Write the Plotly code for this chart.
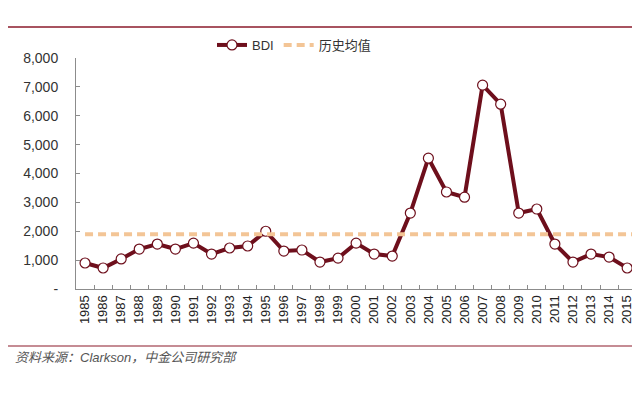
import plotly.graph_objects as go

years = [str(y) for y in range(1985, 2017)]
bdi = [900, 727, 1040, 1384, 1557, 1384, 1590, 1210, 1420, 1490, 2000, 1315, 1350, 934, 1070,
       1590, 1210, 1140, 2630, 4530, 3360, 3180, 7060, 6400, 2630, 2770, 1557, 934, 1210, 1107,
       727, 850]
hist_avg = 1900
avg = [hist_avg] * len(years)

y_tickvals = [0, 1000, 2000, 3000, 4000, 5000, 6000, 7000, 8000]
y_ticktext = ["-", "1,000", "2,000", "3,000", "4,000", "5,000", "6,000", "7,000", "8,000"]

# the page body adds an 8px offset; target window coordinates are shifted by it
OFF = 8
W, H = 640, 398
# desired window coords: plot left 76, top 58, right 640, bottom 289
L, T = 76 - OFF, 58 - OFF
R = W - (640 - OFF)
B = H - (289 - OFF)
pw, ph = W - L - R, H - T - B

def px(x):
    return (x - OFF - L) / pw

def py(y):
    return (H - B - (y - OFF)) / ph

fig = go.Figure()
fig.add_trace(go.Scatter(
    x=years, y=bdi, name="BDI", mode="lines+markers",
    line=dict(color="#6e0f1c", width=4),
    marker=dict(symbol="circle", size=10, color="white", line=dict(color="#6e0f1c", width=1.2)),
    cliponaxis=True,
))
fig.add_trace(go.Scatter(
    x=years, y=avg, name="历史均值", mode="lines",
    line=dict(color="#f3c596", width=4, dash="8px,5px"),
))

fig.update_layout(
    width=W, height=H,
    margin=dict(l=L, r=R, t=T, b=B, autoexpand=False),
    paper_bgcolor="white", plot_bgcolor="white",
    font=dict(family="Liberation Sans, Arial, Noto Sans CJK SC", size=13, color="#333333"),
    showlegend=True,
    legend=dict(orientation="h", x=px(212), xanchor="left", y=py(45), yanchor="middle",
                font=dict(size=13, family="Liberation Sans, Noto Sans CJK SC", color="#333333"),
                bgcolor="rgba(0,0,0,0)", itemwidth=30, tracegroupgap=0),
    xaxis=dict(
        type="category", range=[-0.5, 30.71], automargin=False,
        showline=True, linecolor="#8c8c8c", linewidth=1,
        ticks="inside", tickson="boundaries", ticklen=4, tickcolor="#8c8c8c",
        tickangle=-90, tickfont=dict(size=13, color="#222222"),
        showgrid=False, zeroline=False,
    ),
    yaxis=dict(
        range=[0, 8000], tickvals=y_tickvals, ticktext=y_ticktext, automargin=False,
        showline=True, linecolor="#8c8c8c", linewidth=1,
        ticks="inside", ticklen=4, tickcolor="#8c8c8c",
        tickfont=dict(size=14, color="#333333"),
        showgrid=False, zeroline=False, ticklabelstandoff=14,
    ),
    shapes=[
        dict(type="line", xref="paper", yref="paper", x0=px(8), x1=px(648), y0=py(27), y1=py(27),
             line=dict(color="#8b1a2b", width=1.5)),
        dict(type="line", xref="paper", yref="paper", x0=px(8), x1=px(648), y0=py(346), y1=py(346),
             line=dict(color="#8b1a2b", width=1.2)),
    ],
    annotations=[
        dict(text="<i>资料来源：Clarkson，中金公司研究部</i>", xref="paper", yref="paper",
             x=px(13), y=py(357), xanchor="left", yanchor="middle", showarrow=False,
             font=dict(size=13, color="#555555", family="Liberation Sans, Noto Sans CJK SC")),
    ],
)

fig.write_html("out.html")
